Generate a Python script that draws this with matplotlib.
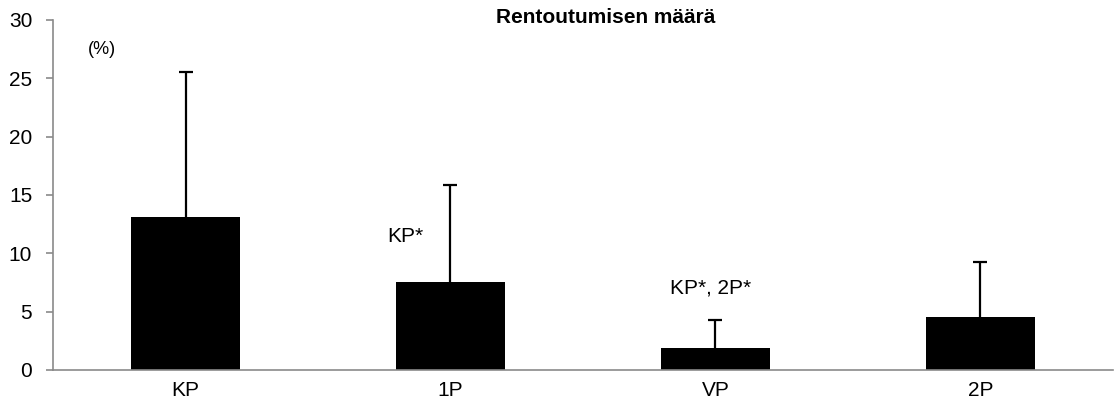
import matplotlib.pyplot as plt
import numpy as np

plt.rcParams['font.family'] = ['Liberation Sans', 'DejaVu Sans']

# Rentoutumisen määrä (%) eri jaksoissa, keskiarvo + keskihajonta
categories = ['KP', '1P', 'VP', '2P']
means = [13.1, 7.5, 1.85, 4.55]
sd = [12.4, 8.35, 2.45, 4.7]
notes = ['', 'KP*', 'KP*, 2P*', '']
note_y = [0, 11.4, 7.0, 0]
note_x = [0, 0.83, 1.98, 0]

fig = plt.figure(figsize=(11.14, 3.99), dpi=100)
ax = fig.add_axes([0.0476, 0.0727, 0.9514, 0.8773])

x = np.arange(len(categories))
ax.bar(x, means, width=0.41, color='black', zorder=2)
eb = ax.errorbar(x, means, yerr=[np.zeros(len(sd)), sd], fmt='none',
                 ecolor='black', elinewidth=1.6, capsize=5, capthick=1.6,
                 zorder=3)
# vain ylöspäin suuntautuva virhepalkki
eb[1][0].set_visible(False)

for xi, yi, txt in zip(note_x, note_y, notes):
    if txt:
        ax.text(xi, yi, txt, ha='center', va='center', fontsize=15)

ax.text(0.033, 0.915, '(%)', transform=ax.transAxes, ha='left', va='center',
        fontsize=13)
ax.text(1.587, 30.2, 'Rentoutumisen määrä', ha='center', va='center',
        fontsize=15, fontweight='bold')

ax.set_xlim(-0.5, 3.5)
ax.set_ylim(0, 30)
ax.set_yticks(range(0, 31, 5))
ax.set_xticks(x)
ax.set_xticklabels(categories)

for s in ['top', 'right']:
    ax.spines[s].set_visible(False)
for s in ['left', 'bottom']:
    ax.spines[s].set_color('#8a8a8a')
    ax.spines[s].set_linewidth(1.2)
ax.tick_params(axis='y', length=5, color='#8a8a8a', width=1.2, pad=10,
               labelsize=15)
ax.tick_params(axis='x', length=0, pad=8, labelsize=15)

fig.savefig('out.png', dpi=100)
